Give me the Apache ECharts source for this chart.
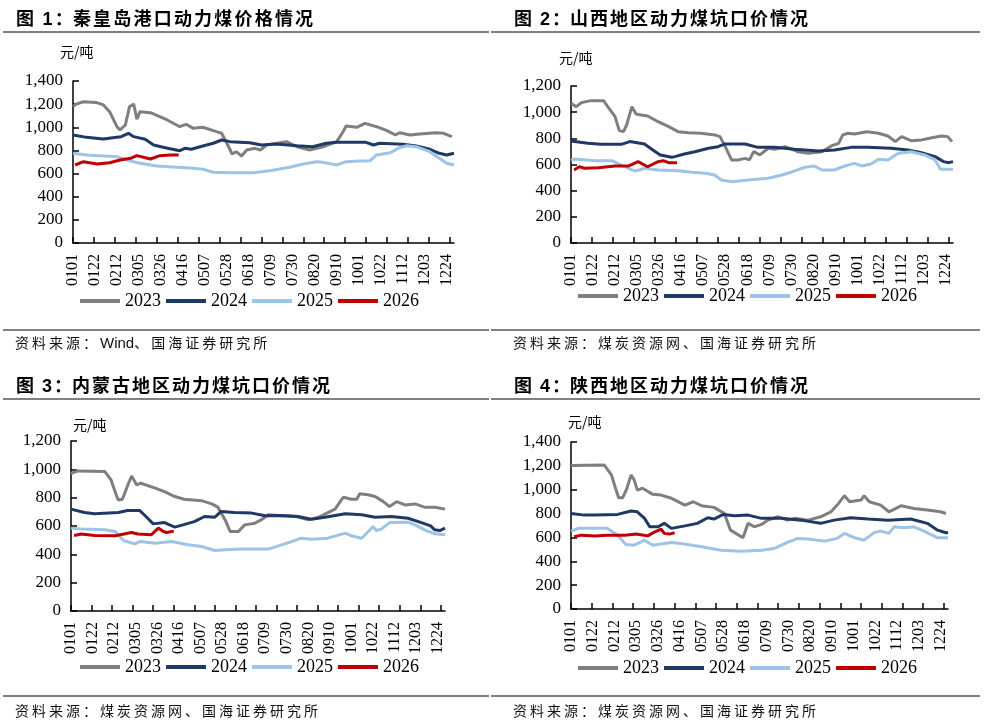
<!DOCTYPE html>
<html><head><meta charset="utf-8">
<script src="https://cdn.jsdelivr.net/npm/echarts@6/dist/echarts.min.js"></script>
<style>
html,body{margin:0;padding:0;background:#fff;}
#wrap{position:relative;width:984px;height:724px;overflow:hidden;background:#fff;}
#chart{position:absolute;left:0;top:0;width:984px;height:724px;}
.title{position:absolute;font-family:"Noto Sans CJK SC";font-weight:bold;font-size:18px;color:#000;white-space:nowrap;line-height:1;letter-spacing:2px;}
.title .num{font-family:"Liberation Sans",Arial,sans-serif;font-weight:bold;}
.title .col{margin-right:-2px;}
.rule{position:absolute;height:2px;background:#808080;}
.src{position:absolute;font-family:"Noto Sans CJK SC";font-size:14px;letter-spacing:3px;color:#111;white-space:nowrap;line-height:1;}
.src .lat{font-family:"Liberation Sans",Arial,sans-serif;font-size:15px;letter-spacing:0;}
</style></head>
<body>
<div id="wrap">
<div id="chart"></div>
<div class="title" style="left:16px;top:8px;letter-spacing:2.2px;">图 <span class="num">1</span><span class="col">：</span>秦皇岛港口动力煤价格情况</div>
<div class="title" style="left:514px;top:8px;">图 <span class="num">2</span><span class="col">：</span>山西地区动力煤坑口价情况</div>
<div class="title" style="left:16px;top:375px;">图 <span class="num">3</span><span class="col">：</span>内蒙古地区动力煤坑口价情况</div>
<div class="title" style="left:514px;top:375px;">图 <span class="num">4</span><span class="col">：</span>陕西地区动力煤坑口价情况</div>
<div class="rule" style="left:3px;width:486px;top:31px;"></div>
<div class="rule" style="left:491px;width:489px;top:31px;"></div>
<div class="rule" style="left:3px;width:486px;top:329px;"></div>
<div class="rule" style="left:491px;width:489px;top:329px;"></div>
<div class="rule" style="left:3px;width:486px;top:398px;"></div>
<div class="rule" style="left:491px;width:489px;top:398px;"></div>
<div class="rule" style="left:3px;width:486px;top:695px;"></div>
<div class="rule" style="left:491px;width:489px;top:695px;"></div>
<div class="src" style="left:15px;top:335px;">资料来源：<span class="lat">Wind</span>、国海证券研究所</div>
<div class="src" style="left:513px;top:335px;">资料来源：煤炭资源网、国海证券研究所</div>
<div class="src" style="left:15px;top:703px;">资料来源：煤炭资源网、国海证券研究所</div>
<div class="src" style="left:513px;top:703px;">资料来源：煤炭资源网、国海证券研究所</div>
</div>
<script>
// categories: calendar days MMDD (non-leap year)
const monthDays = [31,28,31,30,31,30,31,31,30,31,30,31];
const days = [];
for (let m = 0; m < 12; m++) for (let d = 1; d <= monthDays[m]; d++)
  days.push(String(m + 1).padStart(2, '0') + String(d).padStart(2, '0'));

const years = ['2023', '2024', '2025', '2026'];
const unitLabel = '元/吨';

// Chart 1: 秦皇岛港口 [dayIndex, price]
const qhd2023 = [[0,1180],[3,1200],[10,1221],[22,1215],[29,1193],[35,1135],[42,1005],[45,977],[50,1020],[54,1178],[58,1201],[61,1069],[64,1135],[74,1126],[90,1063],[102,1005],[108,1026],[115,991],[124,1000],[137,962],[142,948],[147,862],[152,769],[156,789],[161,752],[166,804],[174,818],[179,804],[185,847],[198,867],[204,876],[214,832],[226,804],[239,832],[252,876],[258,962],[261,1011],[271,1000],[279,1034],[290,1005],[300,971],[308,933],[312,953],[322,933],[331,942],[347,953],[354,948],[362,919]];
const qhd2024 = [[0,934],[13,913],[29,899],[38,910],[46,919],[53,948],[58,919],[69,896],[77,847],[86,827],[102,798],[107,818],[113,810],[124,838],[134,862],[142,890],[150,876],[169,867],[180,847],[194,856],[214,841],[229,832],[242,862],[252,870],[280,870],[287,847],[293,862],[315,853],[328,838],[341,810],[350,775],[357,761],[364,775]];
const qhd2025 = [[0,775],[13,761],[42,746],[54,711],[64,689],[80,666],[99,654],[115,645],[124,637],[134,611],[150,608],[172,608],[188,625],[207,654],[220,683],[233,703],[239,697],[252,674],[261,703],[274,709],[284,711],[290,761],[303,780],[312,824],[319,841],[328,832],[341,789],[350,732],[357,689],[364,674]];
const qhd2026 = [[2,674],[10,703],[23,683],[35,694],[45,717],[55,732],[61,755],[74,726],[83,755],[93,761],[101,761]];

// Chart 2: 山西
const sx2023 = [[0,1068],[5,1042],[10,1073],[19,1088],[31,1088],[35,1042],[42,966],[46,859],[50,851],[53,902],[58,1042],[62,986],[67,979],[73,971],[83,927],[93,889],[102,851],[112,843],[124,839],[137,826],[142,813],[147,736],[153,635],[159,635],[166,647],[170,635],[174,698],[180,673],[188,724],[194,716],[204,736],[216,698],[226,686],[239,698],[248,742],[255,762],[259,826],[264,839],[270,833],[282,851],[293,839],[302,818],[309,775],[315,813],[324,782],[334,788],[344,805],[353,818],[359,813],[363,775]];
const sx2024 = [[0,780],[16,762],[29,754],[48,754],[56,775],[70,757],[78,711],[85,673],[96,655],[99,660],[108,680],[118,698],[131,724],[140,736],[147,757],[166,757],[178,731],[194,731],[213,716],[236,703],[251,711],[267,731],[283,731],[305,724],[321,711],[334,690],[347,660],[355,622],[360,614],[364,622]];
const sx2025 = [[0,635],[4,642],[23,629],[39,629],[48,596],[61,550],[65,558],[70,571],[83,558],[102,553],[115,540],[128,533],[137,520],[143,482],[153,469],[169,482],[188,495],[201,520],[211,545],[223,579],[232,589],[239,558],[251,558],[261,589],[270,609],[277,589],[286,604],[293,640],[302,635],[312,686],[324,698],[337,673],[347,635],[352,563],[364,563]];
const sx2026 = [[3,558],[8,583],[13,571],[26,576],[42,589],[55,589],[64,622],[73,583],[83,622],[88,629],[93,614],[101,614]];

// Chart 3: 内蒙古
const nm2023 = [[0,970],[2,977],[7,989],[33,984],[39,925],[44,820],[46,784],[50,789],[56,902],[59,953],[64,890],[68,902],[82,867],[91,843],[101,808],[110,789],[127,779],[137,756],[143,733],[150,643],[155,561],[163,561],[169,608],[179,620],[185,643],[192,679],[205,672],[219,667],[231,643],[241,662],[250,695],[257,719],[262,772],[265,803],[273,789],[278,789],[281,827],[289,820],[296,808],[304,772],[310,737],[317,772],[325,749],[335,756],[344,733],[354,733],[364,719]];
const nm2024 = [[0,719],[13,695],[23,686],[46,695],[55,709],[67,709],[73,667],[80,615],[91,624],[101,592],[109,608],[120,631],[130,667],[140,662],[146,702],[159,695],[176,691],[189,672],[205,674],[221,667],[234,648],[247,662],[267,686],[283,679],[296,662],[312,667],[328,655],[341,624],[350,601],[354,573],[359,568],[364,585]];
const nm2025 = [[0,585],[10,578],[33,573],[43,561],[51,498],[62,474],[67,490],[82,479],[98,490],[114,467],[127,455],[140,427],[150,432],[166,437],[192,437],[202,460],[218,498],[224,514],[234,507],[250,514],[267,550],[273,531],[283,514],[294,596],[297,568],[302,578],[310,624],[328,627],[335,608],[344,573],[354,545],[364,538]];
const nm2026 = [[3,533],[10,543],[23,533],[43,531],[59,554],[65,543],[78,538],[85,585],[90,561],[93,554],[100,564]];

// Chart 4: 陕西
const shx2023 = [[0,1202],[32,1208],[39,1124],[43,1012],[46,933],[50,933],[54,1012],[58,1124],[61,1082],[64,997],[69,1012],[79,961],[87,955],[97,928],[110,871],[118,899],[126,866],[138,852],[148,802],[154,661],[166,597],[171,718],[177,689],[184,709],[190,745],[200,773],[209,745],[216,760],[229,745],[241,773],[251,815],[257,871],[264,950],[269,899],[280,913],[283,950],[288,899],[299,871],[307,815],[319,866],[331,843],[344,829],[357,815],[362,801]];
const shx2024 = [[0,801],[13,787],[23,787],[45,793],[58,821],[64,815],[71,760],[76,689],[84,689],[90,718],[97,676],[110,697],[122,718],[132,765],[138,754],[147,793],[158,782],[171,787],[184,760],[203,760],[222,745],[241,718],[254,745],[270,765],[287,754],[306,745],[328,754],[344,718],[354,661],[362,639],[364,642]];
const shx2025 = [[0,653],[7,676],[35,676],[45,619],[53,541],[61,535],[71,577],[79,535],[97,558],[106,549],[126,521],[145,493],[164,485],[184,493],[196,507],[209,558],[219,592],[229,586],[245,569],[257,592],[264,634],[274,597],[283,577],[293,642],[299,653],[307,634],[312,689],[322,681],[331,689],[341,653],[354,597],[364,597]];
const shx2026 = [[3,605],[10,619],[23,611],[35,619],[52,619],[63,628],[74,613],[80,642],[87,670],[90,634],[95,628],[100,639]];

const colors = ['#7F7F7F', '#1F3864', '#9DC3E6', '#C00000'];
const serif = '"Liberation Serif","Times New Roman",serif';

const panels = [
  {series:[qhd2023,qhd2024,qhd2025,qhd2026], grid:{left:73,top:81,width:381,height:162}, max:1400, unitPad:[0,0,0,-13], unitGap:22, legend:{left:75,top:287}},
  {series:[sx2023,sx2024,sx2025,sx2026], grid:{left:571,top:86,width:382,height:157}, max:1200, unitPad:[0,0,0,-12], unitGap:21, legend:{left:573,top:282}},
  {series:[nm2023,nm2024,nm2025,nm2026], grid:{left:71,top:441,width:374,height:170}, max:1200, unitPad:[0,0,0,2], unitGap:9, legend:{left:75,top:653}},
  {series:[shx2023,shx2024,shx2025,shx2026], grid:{left:571,top:442,width:377,height:167}, max:1400, unitPad:[0,0,0,-3], unitGap:13, legend:{left:573,top:654}}
];

const option = {animation:false, backgroundColor:'transparent', grid:[], xAxis:[], yAxis:[], series:[], legend:[]};
panels.forEach((p, i) => {
  option.grid.push(Object.assign({containLabel:false}, p.grid));
  option.xAxis.push({
    type:'category', gridIndex:i, data:days, boundaryGap:false,
    axisLine:{lineStyle:{color:'#000', width:1.5}},
    axisTick:{inside:true, length:6, interval:19, lineStyle:{color:'#000', width:1.5}},
    axisLabel:{interval:20, rotate:90, margin:11, color:'#000', fontFamily:serif, fontSize:16},
    splitLine:{show:false}
  });
  option.yAxis.push({
    type:'value', gridIndex:i, min:0, max:p.max, interval:200,
    name:unitLabel, nameLocation:'end', nameGap:p.unitGap,
    nameTextStyle:{fontFamily:'"Noto Sans CJK SC"', fontSize:14, color:'#000', align:'left', padding:p.unitPad},
    axisLine:{show:true, lineStyle:{color:'#000', width:1.5}},
    axisTick:{show:true, inside:true, length:6, lineStyle:{color:'#000', width:1.5}},
    axisLabel:{margin:10, color:'#000', fontFamily:serif, fontSize:17, formatter:v => v.toLocaleString('en-US')},
    splitLine:{show:false}
  });
  p.series.forEach((arr, k) => {
    option.series.push({
      type:'line', name:years[k], xAxisIndex:i, yAxisIndex:i, data:arr,
      showSymbol:false, symbol:'none', smooth:false,
      lineStyle:{color:colors[k], width:3}, itemStyle:{color:colors[k]}, z:2+k
    });
  });
  option.legend.push({
    left:p.legend.left, top:p.legend.top, orient:'horizontal',
    data:years.map((y, k) => ({name:y, icon:'rect', itemStyle:{color:colors[k]}})),
    itemWidth:40, itemHeight:4, itemGap:5, selectedMode:false,
    textStyle:{fontFamily:serif, fontSize:18, color:'#000', padding:[0,0,0,0]}
  });
});

const chart = echarts.init(document.getElementById('chart'), null, {renderer:'canvas'});
chart.setOption(option);
</script>
</body></html>
